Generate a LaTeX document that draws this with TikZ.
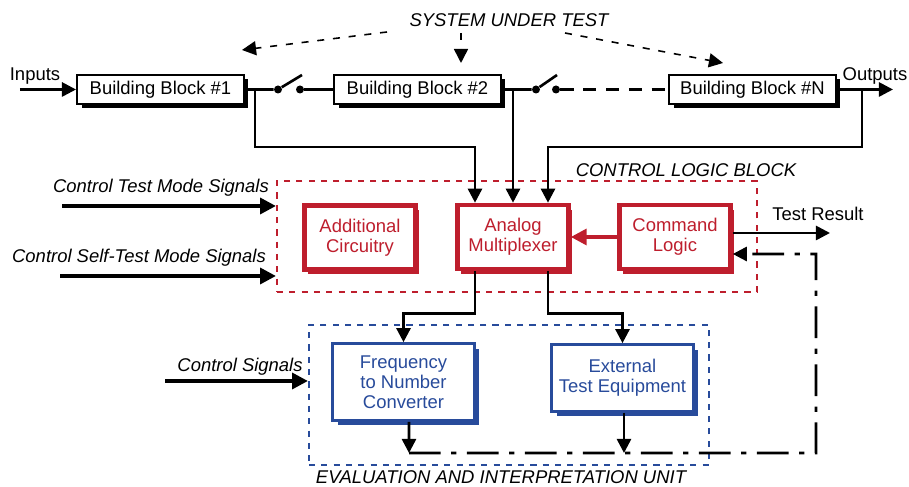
\documentclass[tikz,border=0pt]{standalone}
\usepackage{fontspec}
\setmainfont{Liberation Sans}
\usepackage{tikz}
\usetikzlibrary{arrows.meta, positioning, calc, shadows}

\definecolor{clbred}{RGB}{190,30,45}
\definecolor{eiublue}{RGB}{40,75,155}

\begin{document}
\begin{tikzpicture}[
  font=\fontsize{10.5}{11.5}\selectfont,
  bblock/.style={draw, line width=1.4pt, fill=white, minimum width=3.33cm, minimum height=0.53cm, drop shadow={shadow xshift=0.09cm, shadow yshift=-0.08cm, fill=black, opacity=1}},
  redblk/.style={draw=clbred, line width=2.6pt, fill=white, text=clbred, align=center, minimum width=2.22cm, minimum height=1.28cm, drop shadow={shadow xshift=0.07cm, shadow yshift=-0.1cm, fill=clbred, opacity=1}},
  blueblk/.style={draw=eiublue, line width=1.8pt, fill=white, text=eiublue, align=center, minimum width=2.83cm, drop shadow={shadow xshift=0.1cm, shadow yshift=-0.1cm, fill=eiublue, opacity=1}},
  clbframe/.style={draw=clbred, line width=1.2pt, dash pattern=on 3.5pt off 3.5pt},
  eiuframe/.style={draw=eiublue, line width=1.2pt, dash pattern=on 3.5pt off 3.5pt},
  lbl/.style={font=\fontsize{10.5}{11.5}\selectfont\itshape},
  dot/.style={circle, fill, inner sep=0pt, minimum size=0.16cm},
  arr/.style={-{Triangle[length=8pt,width=8pt]}, line width=1.5pt},
  sig/.style={-{Triangle[length=9pt,width=9pt]}, line width=2.1pt},
  redarr/.style={-{Triangle[length=9pt,width=9pt]}, line width=2.1pt, draw=clbred, color=clbred},
  sutarr/.style={-{Triangle[length=8pt,width=8pt]}, line width=0.9pt, dash pattern=on 4pt off 5pt},
  longdash/.style={line width=1.5pt, dash pattern=on 7.5pt off 5.5pt},
  dashdot/.style={line width=1.5pt, dash pattern=on 18pt off 6pt on 3pt off 6pt}
]
\useasboundingbox (0,0) rectangle (18.18,9.74);

% dashed frames
\node[clbframe, minimum width=9.6cm, minimum height=2.22cm] (clb) at (10.34,5.01) {};
\node[eiuframe, minimum width=8cm, minimum height=2.8cm] (eiu) at (10.18,1.84) {};
\node[lbl] (clbl) at (13.72,6.34) {CONTROL LOGIC BLOCK};
\node[lbl] (eiul) at (10.02,0.2) {EVALUATION AND INTERPRETATION UNIT};

% system under test
\node[bblock] (bb1) at (3.21,7.95) {Building Block \#1};
\node[bblock] (bb2) at (8.35,7.95) {Building Block \#2};
\node[bblock] (bbn) at (15.05,7.95) {Building Block \#N};
\node[lbl] (sut) at (10.18,9.34) {SYSTEM UNDER TEST};
\node (inl) at (0.7,8.22) {Inputs};
\node (outl) at (17.5,8.22) {Outputs};

\coordinate (inp) at (0.4,7.95);
\coordinate (outp) at (17.86,7.95);
\coordinate (sut1) at (7.74,9.1);
\coordinate (sut2) at (9.22,9.08);
\coordinate (sut3) at (11.3,9.08);
\coordinate (bb1up) at (4.84,8.74);
\coordinate (bb2up) at (9.22,8.48);
\coordinate (bbnup) at (14.46,8.48);

% switches
\node[dot] (s1a) at (5.56,7.95) {};
\node[dot] (s1b) at (6.0,7.95) {};
\coordinate (s1l) at (6.04,8.24);
\node[dot] (s2a) at (10.72,7.95) {};
\node[dot] (s2b) at (11.12,7.95) {};
\coordinate (s2l) at (11.14,8.24);

% taps to the multiplexer
\coordinate (t1) at (5.1,7.95);
\coordinate (t2) at (10.26,7.95);
\coordinate (t3) at (17.24,7.95);

% control logic block
\node[redblk] (add) at (7.2,4.99) {Additional\\Circuitry};
\node[redblk] (mux) at (10.26,5.0) {Analog\\Multiplexer};
\node[redblk] (cmd) at (13.5,5.0) {Command\\Logic};
\node[lbl] (ctsl) at (3.22,5.98) {Control Test Mode Signals};
\node[lbl] (cstl) at (2.78,4.58) {Control Self-Test Mode Signals};
\node (trl) at (16.36,5.46) {Test Result};
\coordinate (cts) at (1.24,5.62);
\coordinate (cst) at (1.2,4.22);
\coordinate (tr) at (16.6,5.08);

% evaluation unit
\node[blueblk, minimum height=1.53cm] (freq) at (8.07,2.1) {Frequency\\to Number\\Converter};
\node[blueblk, minimum height=1.33cm] (ext) at (12.45,2.18) {External\\Test Equipment};
\node[lbl] (csl) at (4.8,2.4) {Control Signals};
\coordinate (csig) at (3.3,2.12);
\coordinate (f0) at (8.18,0.68);
\coordinate (e0) at (12.48,0.68);

% signal path
\draw[arr] (inp) -- (bb1.west);
\draw[line width=1.5pt] (bb1.east) -- (s1a) -- (s1l);
\draw[line width=1.5pt] (s1b) -- (bb2.west);
\draw[line width=1.5pt] (bb2.east) -- (s2a) -- (s2l);
\draw[longdash] (s2b) -- (bbn.west);
\draw[arr] (bbn.east) -- (outp);

\draw[sutarr] (sut1) -- (bb1up);
\draw[sutarr] (sut2) -- (bb2up);
\draw[sutarr] (sut3) -- (bbnup);

\draw[arr] (t1) -- (5.1,6.8) -| ([xshift=-0.76cm]mux.north);
\draw[arr] (t2) -- (mux.north);
\draw[arr] (t3) -- (17.24,6.8) -| ([xshift=0.7cm]mux.north);

\draw[sig] (cts) -- (cts -| clb.west);
\draw[sig] (cst) -- (cst -| clb.west);
\draw[redarr] (cmd.west) -- (mux.east);
\draw[arr] ([yshift=0.08cm]cmd.east) -- (tr);

\draw[arr] ([xshift=-0.76cm]mux.south) |- (8.07,3.47) -- (freq.north);
\draw[arr] ([xshift=0.7cm]mux.south) |- (12.45,3.47) -- (ext.north);
\draw[sig] (csig) -- (csig -| eiu.west);
\draw[arr] ([xshift=0.11cm]freq.south) -- (f0);
\draw[arr] ([xshift=0.03cm]ext.south) -- (e0);

% feedback to the command logic
\draw[dashdot, -{Triangle[length=8pt,width=8pt]}] (f0) -| (16.32,4.66) -- ([yshift=-0.34cm]cmd.east);

\end{tikzpicture}
\end{document}
